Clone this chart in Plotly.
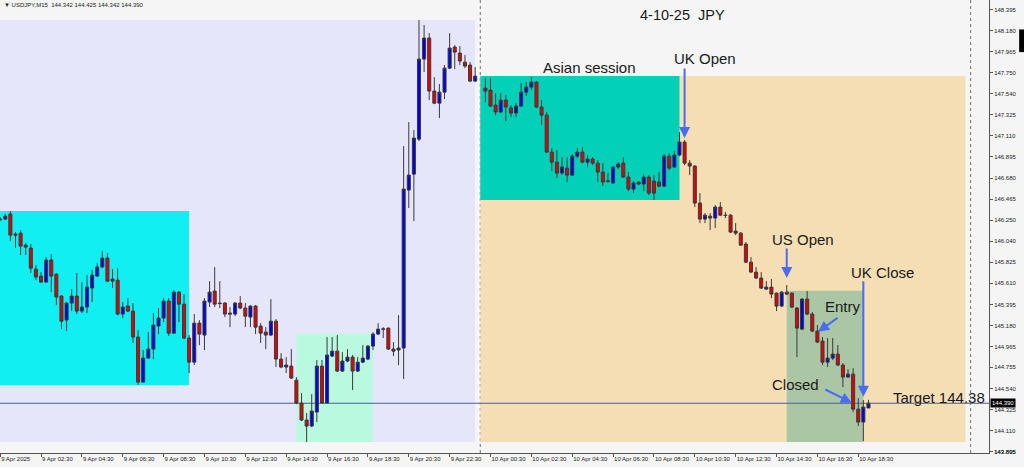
import pandas as pd
import plotly.graph_objects as go

# USDJPY M15, 9 Apr 2025 00:30 -> 10 Apr 2025 19:00 (no bar at 10 Apr 00:00)
bar_open = [
    146.263, 146.263, 146.314, 146.110, 146.120, 145.998, 145.968, 145.754, 145.683, 145.622,
    145.846, 145.703, 145.480, 145.236, 145.409, 145.480, 145.327, 145.368, 145.561, 145.683,
    145.775, 145.866, 145.653, 145.642, 145.297, 145.378, 145.327, 145.063, 144.605, 144.849,
    144.941, 145.175, 145.256, 145.429, 145.103, 145.520, 145.398, 145.053, 144.808, 145.205,
    145.083, 145.419, 145.531, 145.409, 145.409, 145.307, 145.297, 145.409, 145.358, 145.266,
    145.378, 145.175, 145.114, 145.083, 145.225, 144.839, 144.758, 144.768, 144.625, 144.392,
    144.219, 144.158, 144.300, 144.768, 144.392, 144.870, 144.920, 144.717, 144.819, 144.859,
    144.717, 144.808, 144.839, 144.971, 145.093, 145.142, 145.154, 144.941, 144.931, 144.951,
    146.558, 146.720, 147.076, 147.890, 148.104, 147.565, 147.442, 147.554, 147.798, 148.012,
    147.951, 147.859, 147.829, 147.666,
    147.595, 147.575, 147.422, 147.351, 147.473, 147.392, 147.341, 147.412, 147.554, 147.605,
    147.656, 147.402, 147.320, 146.944, 146.842, 146.731, 146.781, 146.710, 146.903, 146.944,
    146.842, 146.873, 146.832, 146.741, 146.647, 146.629, 146.792, 146.832, 146.690, 146.568,
    146.639, 146.619, 146.690, 146.649, 146.639, 146.598, 146.903, 146.792, 146.914, 147.046,
    146.832, 146.802, 146.426, 146.263, 146.293, 146.273, 146.385, 146.303, 146.303, 146.141,
    146.120, 146.009, 145.825, 145.724, 145.663, 145.551, 145.571, 145.510, 145.378, 145.520,
    145.510, 145.358, 145.144, 145.449, 145.297, 145.124, 145.022, 144.808, 144.849, 144.890,
    144.778, 144.656, 144.686, 144.330, 144.198, 144.342,
]
bar_high = [
    146.283, 146.314, 146.344, 146.131, 146.151, 146.019, 146.009, 145.795, 145.724, 145.876,
    145.907, 145.710, 145.490, 145.419, 145.551, 145.714, 145.622, 145.693, 145.744, 145.815,
    145.937, 145.917, 145.754, 145.764, 145.419, 145.459, 145.409, 145.134, 144.931, 145.114,
    145.307, 145.358, 145.459, 145.459, 145.541, 145.531, 145.500, 145.083, 145.297, 145.236,
    145.459, 145.632, 145.775, 145.632, 145.419, 145.368, 145.419, 145.480, 145.409, 145.388,
    145.388, 145.205, 145.164, 145.449, 145.246, 144.900, 144.859, 144.941, 144.656, 144.493,
    144.290, 144.483, 144.829, 144.829, 145.063, 145.063, 145.083, 144.910, 144.941, 144.880,
    144.859, 144.981, 144.981, 145.114, 145.205, 145.164, 145.159, 145.012, 145.286, 147.005,
    147.249, 147.168, 148.287, 148.236, 148.154, 147.707, 147.636, 147.829, 148.154, 148.032,
    148.022, 147.931, 147.859, 147.809,
    147.697, 147.697, 147.544, 147.544, 147.524, 147.422, 147.442, 147.646, 147.656, 147.707,
    147.666, 147.473, 147.351, 146.985, 146.965, 146.893, 146.893, 146.924, 146.985, 146.995,
    146.914, 146.893, 146.863, 146.832, 146.731, 146.802, 146.842, 146.893, 146.741, 146.649,
    146.644, 146.720, 146.710, 146.710, 146.741, 146.924, 146.934, 146.954, 147.148, 147.066,
    146.863, 146.812, 146.527, 146.324, 146.324, 146.405, 146.436, 146.334, 146.314, 146.222,
    146.131, 146.029, 145.876, 145.775, 145.724, 145.632, 145.653, 145.515, 145.531, 145.592,
    145.515, 145.368, 145.459, 145.531, 145.317, 145.185, 145.063, 145.053, 145.053, 144.981,
    144.798, 144.737, 144.747, 144.442, 144.422, 144.425,
]
bar_low = [
    146.242, 146.253, 146.039, 145.968, 145.897, 145.897, 145.714, 145.642, 145.617, 145.617,
    145.520, 145.388, 145.144, 145.124, 145.327, 145.297, 145.307, 145.307, 145.419, 145.673,
    145.764, 145.622, 145.561, 145.286, 145.256, 145.317, 145.002, 144.575, 144.600, 144.844,
    144.839, 145.093, 145.215, 145.073, 145.098, 145.215, 145.042, 144.697, 144.778, 144.981,
    144.931, 145.368, 145.368, 145.358, 145.266, 145.164, 145.276, 145.347, 145.164, 145.164,
    145.093, 145.002, 144.941, 145.073, 144.758, 144.747, 144.697, 144.636, 144.381, 144.208,
    143.995, 144.147, 144.198, 144.387, 144.387, 144.859, 144.707, 144.707, 144.808, 144.524,
    144.707, 144.798, 144.829, 144.931, 145.083, 145.053, 144.931, 144.870, 144.778, 144.636,
    146.375, 146.242, 147.056, 147.758, 147.473, 147.432, 147.290, 147.483, 147.788, 147.788,
    147.829, 147.798, 147.656, 147.656,
    147.453, 147.402, 147.320, 147.341, 147.259, 147.300, 147.300, 147.402, 147.514, 147.575,
    147.392, 147.219, 146.934, 146.751, 146.680, 146.710, 146.639, 146.700, 146.883, 146.832,
    146.792, 146.812, 146.639, 146.598, 146.629, 146.624, 146.771, 146.680, 146.548, 146.527,
    146.609, 146.548, 146.507, 146.456, 146.588, 146.588, 146.761, 146.781, 146.903, 146.812,
    146.710, 146.385, 146.222, 146.222, 146.151, 146.171, 146.293, 146.273, 146.120, 146.100,
    145.988, 145.815, 145.714, 145.653, 145.551, 145.541, 145.459, 145.327, 145.368, 145.490,
    145.358, 144.859, 145.134, 145.286, 145.114, 145.002, 144.778, 144.758, 144.829, 144.768,
    144.554, 144.651, 144.300, 144.158, 144.005, 144.342,
]
bar_close = [
    146.258, 146.293, 146.100, 146.100, 145.988, 145.978, 145.764, 145.673, 145.622, 145.846,
    145.683, 145.470, 145.225, 145.409, 145.480, 145.327, 145.368, 145.571, 145.693, 145.775,
    145.866, 145.632, 145.632, 145.297, 145.368, 145.327, 145.063, 144.605, 144.849, 144.941,
    145.185, 145.256, 145.429, 145.103, 145.520, 145.398, 145.053, 144.808, 145.205, 145.093,
    145.429, 145.520, 145.398, 145.404, 145.297, 145.297, 145.409, 145.358, 145.276, 145.378,
    145.164, 145.103, 145.083, 145.225, 144.839, 144.758, 144.778, 144.646, 144.392, 144.219,
    144.158, 144.310, 144.768, 144.392, 144.880, 144.920, 144.717, 144.819, 144.859, 144.717,
    144.808, 144.849, 144.971, 145.093, 145.144, 145.146, 144.941, 144.920, 144.951, 146.568,
    146.710, 147.087, 147.890, 148.104, 147.565, 147.442, 147.554, 147.798, 148.002, 147.961,
    147.870, 147.819, 147.666, 147.717,
    147.565, 147.412, 147.351, 147.473, 147.402, 147.341, 147.412, 147.554, 147.605, 147.656,
    147.402, 147.320, 146.944, 146.842, 146.731, 146.792, 146.710, 146.903, 146.944, 146.842,
    146.873, 146.832, 146.741, 146.639, 146.651, 146.792, 146.822, 146.690, 146.568, 146.629,
    146.619, 146.690, 146.527, 146.527, 146.598, 146.903, 146.781, 146.914, 147.046, 146.832,
    146.802, 146.426, 146.263, 146.303, 146.273, 146.385, 146.303, 146.300, 146.131, 146.120,
    145.998, 145.825, 145.724, 145.663, 145.561, 145.571, 145.500, 145.378, 145.520, 145.500,
    145.368, 145.154, 145.449, 145.297, 145.124, 145.012, 144.808, 144.849, 144.890, 144.778,
    144.656, 144.686, 144.330, 144.198, 144.351, 144.390,
]

bar_time = pd.date_range("2025-04-09 00:30", "2025-04-10 19:00", freq="15min")
bar_time = bar_time[bar_time != pd.Timestamp("2025-04-10 00:00")]

price_ticks = [148.395, 148.180, 147.965, 147.750, 147.540, 147.325, 147.110, 146.895,
               146.680, 146.465, 146.250, 146.040, 145.825, 145.610, 145.395, 145.180,
               144.965, 144.755, 144.540, 144.325, 144.110, 143.895]
time_ticks = ["2025-04-09 00:30", "2025-04-09 02:30", "2025-04-09 04:30", "2025-04-09 06:30",
              "2025-04-09 08:30", "2025-04-09 10:30", "2025-04-09 12:30", "2025-04-09 14:30",
              "2025-04-09 16:30", "2025-04-09 18:30", "2025-04-09 20:30", "2025-04-09 22:30",
              "2025-04-10 00:30", "2025-04-10 02:30", "2025-04-10 04:30", "2025-04-10 06:30",
              "2025-04-10 08:30", "2025-04-10 10:30", "2025-04-10 12:30", "2025-04-10 14:30",
              "2025-04-10 16:30", "2025-04-10 18:30"]
time_labels = ["9 Apr 2025", "9 Apr 02:30", "9 Apr 04:30", "9 Apr 06:30", "9 Apr 08:30",
               "9 Apr 10:30", "9 Apr 12:30", "9 Apr 14:30", "9 Apr 16:30", "9 Apr 18:30",
               "9 Apr 20:30", "9 Apr 22:30", "10 Apr 00:30", "10 Apr 02:30", "10 Apr 04:30",
               "10 Apr 06:30", "10 Apr 08:30", "10 Apr 10:30", "10 Apr 12:30", "10 Apr 14:30",
               "10 Apr 16:30", "10 Apr 18:30"]

target_price = 144.390
x_start, x_end = "2025-04-09 00:29:30", "2025-04-11 00:54"

# session boxes: (start, end, low, high, colour)
zones = [
    ("2025-04-09 00:00", "2025-04-09 23:45", 143.995, 148.287, "#e6e6fa"),
    ("2025-04-09 00:00", "2025-04-09 09:45", 144.575, 146.344, "#12eff2"),
    ("2025-04-09 15:00", "2025-04-09 18:45", 143.995, 145.100, "#b8f9df"),
    ("2025-04-10 00:00", "2025-04-10 23:45", 143.995, 147.717, "#f5deb3"),
    ("2025-04-10 00:00", "2025-04-10 09:45", 146.456, 147.717, "#02d1b8"),
    ("2025-04-10 15:00", "2025-04-10 18:45", 143.995, 145.534, "#abc6a4"),
]

AXIS_FONT = dict(family="Liberation Sans, Arial, sans-serif", size=6, color="#222")
TEXT_FONT = dict(family="Liberation Sans, Arial, sans-serif", size=15, color="#1a1a1a")
ARROW = "#4a6cf5"

fig = go.Figure(go.Candlestick(
    x=bar_time, open=bar_open, high=bar_high, low=bar_low, close=bar_close,
    increasing=dict(fillcolor="#0000e8", line=dict(color="#3a3a3a", width=1)),
    decreasing=dict(fillcolor="#e60000", line=dict(color="#3a3a3a", width=1)),
    whiskerwidth=0, hoverinfo="skip", showlegend=False,
))

for x0, x1, y0, y1, col in zones:
    fig.add_shape(type="rect", x0=x0, x1=x1, y0=y0, y1=y1, fillcolor=col,
                  line_width=0, layer="below")

for sep in ["2025-04-10 00:00", "2025-04-11 00:00"]:
    fig.add_shape(type="line", x0=sep, x1=sep, yref="paper", y0=0, y1=1,
                  line=dict(color="#707070", width=1, dash="dot"), layer="below")

fig.add_shape(type="line", x0=x_start, x1=x_end, y0=target_price, y1=target_price,
              line=dict(color="#4a50d8", width=1), layer="below")

# black scrollbar stub at the far right
fig.add_shape(type="rect", xref="paper", yref="paper", x0=1.0305, x1=1.04,
              y0=0.885, y1=0.935, fillcolor="black", line_width=0)

labels = [
    ("4-10-25\u00a0 JPY", "2025-04-10 09:55", 148.337, 14.5),
    ("Asian session", "2025-04-10 05:22", 147.809, 15),
    ("UK Open", "2025-04-10 11:00", 147.900, 15),
    ("US Open", "2025-04-10 15:48", 146.059, 15),
    ("UK Close", "2025-04-10 19:40", 145.724, 15),
    ("Entry", "2025-04-10 17:44", 145.373, 15),
    ("Closed", "2025-04-10 15:26", 144.582, 15),
    ("Target 144.38", "2025-04-10 22:27", 144.447, 15),
]
for txt, x, y, size in labels:
    fig.add_annotation(x=x, y=y, text=txt, showarrow=False,
                       font=dict(TEXT_FONT, size=size))

arrows = [
    ("2025-04-10 10:00", 147.087, 0, -71),
    ("2025-04-10 15:00", 145.663, 0, -31),
    ("2025-04-10 18:45", 144.456, 0, -117),
    ("2025-04-10 16:32", 145.117, 21, -15),
    ("2025-04-10 18:11", 144.395, -28, -14),
]
for x, y, ax, ay in arrows:
    fig.add_annotation(x=x, y=y, ax=ax, ay=ay, text="", showarrow=True,
                       arrowhead=2, arrowsize=1.1, arrowwidth=2, arrowcolor=ARROW,
                       standoff=0)

fig.add_annotation(xref="paper", yref="paper", x=0.002, y=1, xanchor="left", yanchor="top",
                   text="\u25bc USDJPY,M15  144.342 144.425 144.342 144.390",
                   showarrow=False, font=AXIS_FONT)
fig.add_annotation(xref="paper", x=1, y=target_price, xanchor="left", text="144.390",
                   showarrow=False, bgcolor="black", borderpad=1, xshift=1,
                   font=dict(AXIS_FONT, color="white"))
# plotly drops the lowest price label next to the time axis; put it back by hand
fig.add_annotation(xref="paper", x=1, y=price_ticks[-1], xanchor="left", yanchor="middle",
                   text=f"{price_ticks[-1]:.3f}", showarrow=False, xshift=3,
                   font=AXIS_FONT)

fig.update_layout(
    width=1024, height=467,
    margin=dict(l=0, r=35, t=0, b=14, pad=0, autoexpand=False),
    paper_bgcolor="#f5f5f5", plot_bgcolor="#f5f5f5",
    boxgap=0.3, boxgroupgap=0.15,
    xaxis=dict(
        type="date", range=[x_start, x_end], automargin=False,
        rangeslider=dict(visible=False), showgrid=False, zeroline=False,
        showline=True, linecolor="#555", linewidth=1,
        ticks="outside", ticklen=3, tickcolor="#555", tickangle=0,
        tickvals=time_ticks, ticktext=time_labels, ticklabeloverflow="allow",
        ticklabelposition="outside right", tickfont=AXIS_FONT,
    ),
    yaxis=dict(
        side="right", range=[143.884, 148.491], showgrid=False, zeroline=False,
        automargin=False, showline=True, linecolor="#555", linewidth=1,
        ticks="outside", ticklen=3, tickcolor="#555", ticklabeloverflow="allow",
        tickvals=price_ticks, ticktext=[f"{v:.3f}" for v in price_ticks],
        tickfont=AXIS_FONT,
    ),
)

# drop the default 8px page margin so the chart sits at the window's corner
fig.write_html("out.html", config={"displayModeBar": False},
               post_script="document.body.style.margin='0';")
